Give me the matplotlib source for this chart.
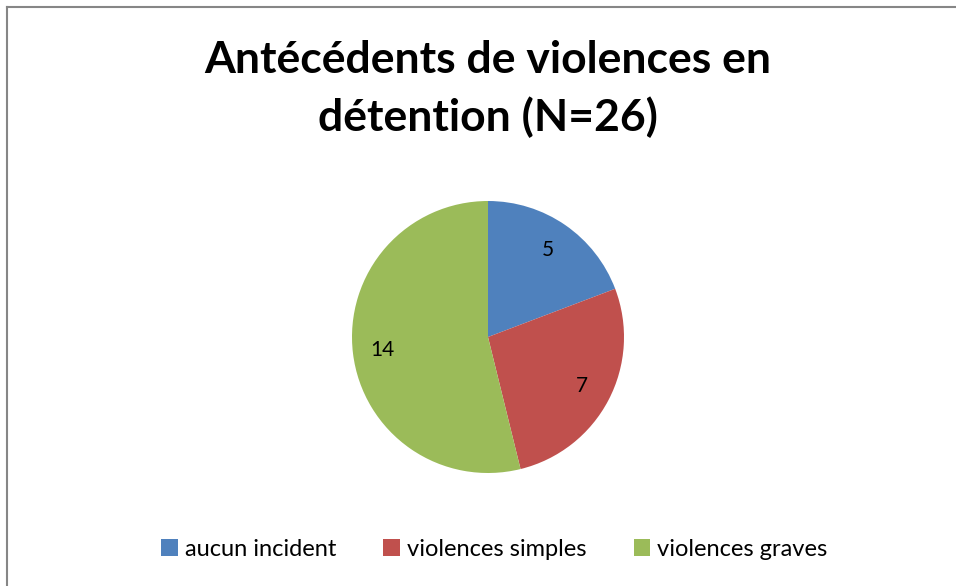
import matplotlib
matplotlib.use("Agg")
import matplotlib.pyplot as plt
from matplotlib.patches import Patch
from matplotlib.lines import Line2D

plt.rcParams['font.family'] = ['Lato', 'DejaVu Sans']

categories = [u'aucun incident', u'violences simples', u'violences graves']
values = [5, 7, 14]
colors = ['#4F81BD', '#C0504D', '#9BBB59']
title = u"Antécédents de violences en\ndétention (N=26)"

W, H = 956, 586
fig = plt.figure(figsize=(W / 100, H / 100), dpi=100)

# pie axes: centre ~(488, 337) px, radius ~136 px
cx, cy, r = 488, 337, 136
ax = fig.add_axes([(cx - r) / W, (H - cy - r) / H, 2 * r / W, 2 * r / H])
total = sum(values)
ax.pie(values, colors=colors, startangle=90, counterclock=False,
       autopct=lambda p: '%d' % round(p * total / 100.0), pctdistance=0.78,
       textprops={'fontsize': 15, 'color': 'black'},
       wedgeprops={'linewidth': 0})
ax.set_xlim(-1, 1)
ax.set_ylim(-1, 1)
ax.set_aspect('equal')

fig.text(0.5105, 1 - 89 / H, title, ha='center', va='center',
         fontsize=32, fontweight='bold', linespacing=1.45)

handles = [Patch(facecolor=c, edgecolor='none') for c in colors]
fig.legend(handles, categories, loc='center', bbox_to_anchor=(0.517, 1 - 549 / H),
           ncol=3, frameon=False, fontsize=17, handlelength=0.7,
           handleheight=0.7, handletextpad=0.3, columnspacing=2.0)

# chart frame (only top and left edges visible)
fig.add_artist(Line2D([7 / W, 7 / W], [0, 1 - 7 / H], color='#868686', lw=1.5))
fig.add_artist(Line2D([7 / W, 1], [1 - 7 / H, 1 - 7 / H], color='#868686', lw=1.5))

fig.savefig('out.png', dpi=100)
